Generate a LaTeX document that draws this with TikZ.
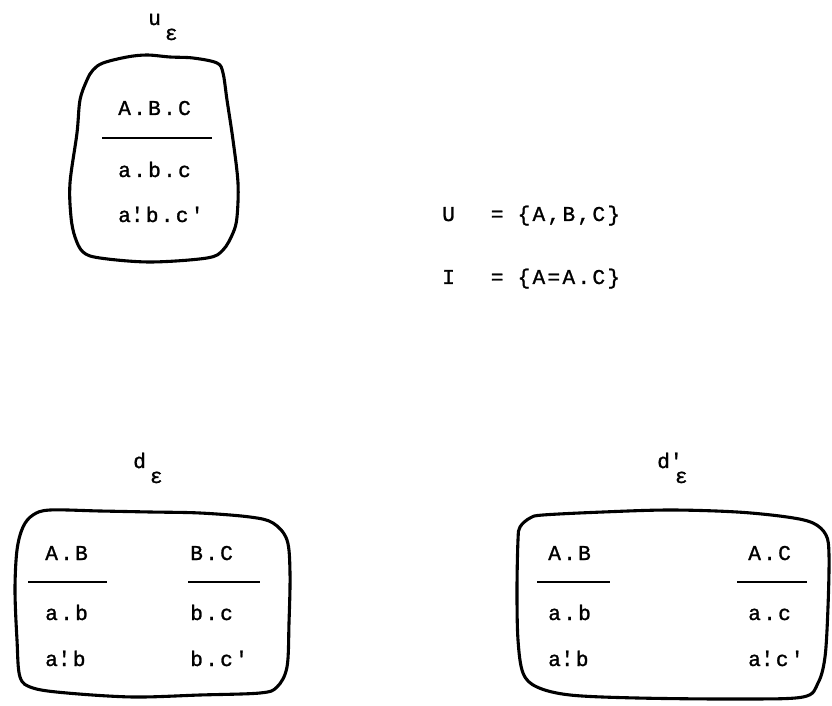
\documentclass[tikz,border=0pt]{standalone}
\usepackage{fontspec}
\newfontfamily\twfont[LetterSpace=11,FakeBold=1.2]{Liberation Mono}
\newcommand\tw{\twfont\fontsize{15}{17}\selectfont}
\newcommand\ovq{\rlap{'}}
\newcommand\subeps{\raisebox{-0.375cm}{ε}}

\begin{document}
\begin{tikzpicture}[
  txt/.style={font=\tw, anchor=base west, inner sep=0pt},
  blob/.style={line width=2.2pt, line join=round},
  rule/.style={line width=1.2pt}
]
\useasboundingbox (0,0) rectangle (20.8,17.625);

% Label u_epsilon
\node[txt] (ulab) at (3.7,17.0) {u\hspace{0.1cm}\subeps};

% Box of u
\draw[blob] plot[smooth cycle, tension=0.55] coordinates {
  (2.325,15.875) (2.575,16.05) (3.175,16.2) (3.675,16.25) (4.25,16.2)
  (4.825,16.175) (5.425,16.05) (5.575,15.8) (5.675,15.125) (5.825,14.125)
  (5.95,13.05) (5.925,12.2) (5.825,11.8) (5.575,11.375) (5.175,11.175)
  (3.75,11.075) (2.5,11.175) (2.075,11.325) (1.875,11.7) (1.775,12.2)
  (1.75,13.05) (1.925,14.3) (2.0,15.125) (2.175,15.625)};

% Rows of u
\node[txt] (uhead) at (2.95,14.75) {A.B.C};
\draw[rule] (2.55,14.175) -- (5.3,14.175);
\node[txt] (urowa) at (2.95,13.2) {a.b.c};
\node[txt] (urowb) at (2.95,12.075) {a\ovq.b.c'};

% Universe and dependencies
\node[txt] (univ) at (11.05,12.1) {U\hspace{0.9cm}=\hspace{0.35cm}\{A,B,C\}};
\node[txt] (indep) at (11.05,10.525) {I\hspace{0.9cm}=\hspace{0.35cm}\{A=A.C\}};

% Label d_epsilon
\node[txt] (dlab) at (3.325,5.925) {d\hspace{0.1cm}\subeps};

% Box of d
\draw[blob] plot[smooth cycle, tension=0.55] coordinates {
  (0.575,4.45) (0.825,4.75) (1.25,4.875) (2.5,4.85) (3.75,4.825)
  (5.0,4.8) (6.25,4.7) (6.825,4.55) (7.175,4.125) (7.25,3.3)
  (7.225,2.05) (7.175,0.95) (6.925,0.45) (6.5,0.3) (5.0,0.25)
  (3.325,0.2) (1.675,0.3) (0.825,0.425) (0.5,0.7) (0.425,1.625)
  (0.375,2.875) (0.425,3.875)};

% Rows of d, left part
\node[txt] (dlhead) at (1.125,3.625) {A.B};
\draw[rule] (0.7,3.075) -- (2.675,3.075);
\node[txt] (dlrowa) at (1.125,2.125) {a.b};
\node[txt] (dlrowb) at (1.125,0.975) {a\ovq.b};

% Rows of d, right part
\node[txt] (drhead) at (4.75,3.625) {B.C};
\draw[rule] (4.7,3.075) -- (6.5,3.075);
\node[txt] (drrowa) at (4.75,2.125) {b.c};
\node[txt] (drrowb) at (4.75,0.975) {b.c'};

% Label d'_epsilon
\node[txt] (dplab) at (16.425,5.925) {d\ovq\hspace{0.125cm}\subeps};

% Box of d'
\draw[blob] plot[smooth cycle, tension=0.55] coordinates {
  (13.0,4.45) (13.25,4.675) (13.575,4.75) (15.075,4.825) (16.75,4.875)
  (18.425,4.825) (19.675,4.7) (20.325,4.55) (20.65,4.25) (20.725,3.75)
  (20.7,2.45) (20.625,1.2) (20.45,0.55) (20.075,0.2) (18.425,0.15)
  (15.925,0.175) (14.25,0.25) (13.425,0.45) (13.075,0.8) (12.95,1.625)
  (12.925,2.875) (12.95,4.125)};

% Rows of d', left part
\node[txt] (dplhead) at (13.7,3.625) {A.B};
\draw[rule] (13.425,3.075) -- (15.25,3.075);
\node[txt] (dplrowa) at (13.7,2.125) {a.b};
\node[txt] (dplrowb) at (13.7,0.975) {a\ovq.b};

% Rows of d', right part
\node[txt] (dprhead) at (18.7,3.625) {A.C};
\draw[rule] (18.425,3.075) -- (20.175,3.075);
\node[txt] (dprrowa) at (18.7,2.125) {a.c};
\node[txt] (dprrowb) at (18.7,0.975) {a\ovq.c'};

\end{tikzpicture}
\end{document}
